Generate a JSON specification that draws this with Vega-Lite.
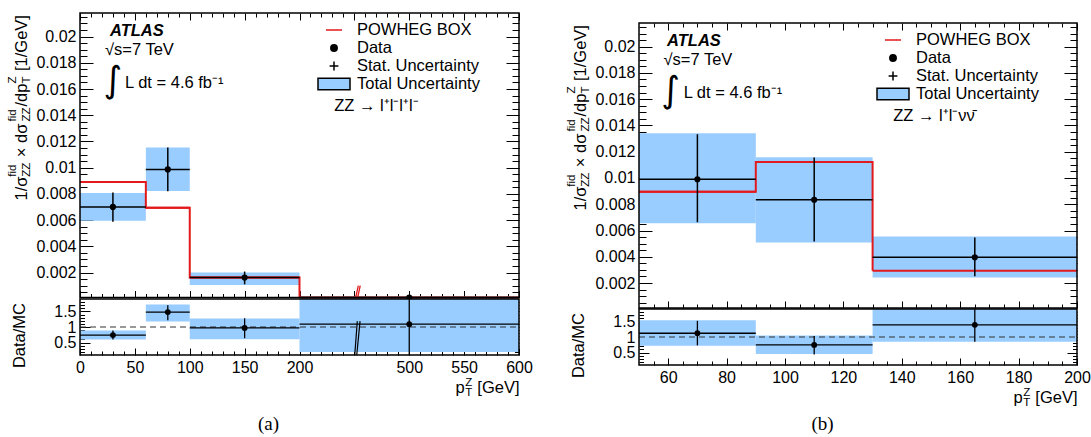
{
  "$schema": "https://vega.github.io/schema/vega-lite/v6.json",
  "width": 1091,
  "height": 437,
  "autosize": {"type": "none"},
  "padding": 0,
  "background": "white",
  "datasets": {
    "left": [
      {"lo": 0, "hi": 60, "c": 30, "d": 0.00701, "slo": 0.00587, "shi": 0.0081, "tlo": 0.00595, "thi": 0.00808, "mc": 0.00891, "r": 0.74, "rslo": 0.6, "rshi": 0.89, "rtlo": 0.6, "rthi": 0.89},
      {"lo": 60, "hi": 100, "c": 80, "d": 0.00987, "slo": 0.0082, "shi": 0.01155, "tlo": 0.00823, "thi": 0.01155, "mc": 0.00694, "r": 1.48, "rslo": 1.22, "rshi": 1.7, "rtlo": 1.18, "rthi": 1.72},
      {"lo": 100, "hi": 200, "c": 150, "d": 0.00162, "slo": 0.00111, "shi": 0.00208, "tlo": 0.00106, "thi": 0.002, "mc": 0.00162, "r": 0.97, "rslo": 0.64, "rshi": 1.28, "rtlo": 0.61, "rthi": 1.27},
      {"lo": 200, "hi": 600, "c": 500, "d": 0.0001, "slo": 0.00002, "shi": 0.0002, "tlo": 0.00004, "thi": 0.00018, "mc": 0.0001, "r": 1.09, "rslo": -0.2, "rshi": 2.6, "rtlo": 0.2, "rthi": 2.6}
    ],
    "right": [
      {"lo": 50, "hi": 90, "c": 70, "d": 0.0099, "slo": 0.00663, "shi": 0.01333, "tlo": 0.00656, "thi": 0.01341, "mc": 0.00895, "r": 1.12, "rslo": 0.73, "rshi": 1.52, "rtlo": 0.72, "rthi": 1.54},
      {"lo": 90, "hi": 130, "c": 110, "d": 0.00834, "slo": 0.00516, "shi": 0.01155, "tlo": 0.00508, "thi": 0.01157, "mc": 0.01122, "r": 0.745, "rslo": 0.44, "rshi": 1.03, "rtlo": 0.45, "rthi": 1.05},
      {"lo": 130, "hi": 200, "c": 165, "d": 0.00396, "slo": 0.00251, "shi": 0.00546, "tlo": 0.00243, "thi": 0.00554, "mc": 0.00294, "r": 1.39, "rslo": 0.85, "rshi": 2.0, "rtlo": 0.85, "rthi": 2.0}
    ],
    "legend": [{"entry": "POWHEG BOX"}, {"entry": "Data"}, {"entry": "Stat. Uncertainty"}, {"entry": "Total Uncertainty"}],
    "breakMain": [{"x1": 353.6, "x2": 360.8, "y1": 0.0001, "y2": 0.001}, {"x1": 359, "x2": 366, "y1": 0.0001, "y2": 0.001}],
    "breakRatio": [{"x1": 351, "x2": 358, "y1": 0.1, "y2": 1.19}, {"x1": 356.5, "x2": 365.5, "y1": 0.1, "y2": 1.19}],
    "one": [{}]
  },
  "config": {
    "font": "Liberation Sans",
    "view": {"stroke": null},
    "axis": {"grid": false, "domain": false, "zindex": 1, "labelFont": "Liberation Sans", "labelFontSize": 16, "labelColor": "black", "tickColor": "black", "tickWidth": 1, "titleFont": "Liberation Sans", "titleFontSize": 16.5, "titleFontWeight": "normal", "titleColor": "black", "labelOverlap": false, "labelBound": false, "labelFlush": false, "titlePadding": 0},
    "legend": {"orient": "none", "direction": "vertical", "titleOrient": "bottom", "titleAnchor": "start", "titleFont": "Liberation Sans", "titleFontSize": 16.5, "titleFontWeight": "normal", "titleColor": "black", "titlePadding": 5, "labelFont": "Liberation Sans", "labelFontSize": 16.5, "labelColor": "black", "labelOffset": 14, "symbolSize": 256, "symbolStrokeWidth": 1.5, "rowPadding": 0, "padding": 0, "labelLimit": 0, "titleLimit": 0}
  },
  "resolve": {
    "scale": {"x": "independent", "y": "independent", "shape": "independent", "fill": "independent", "stroke": "independent"},
    "axis": {"x": "independent", "y": "independent"},
    "legend": {"shape": "independent", "fill": "independent", "stroke": "independent"}
  },
  "layer": [
    {
      "resolve": {"axis": {"x": "independent", "y": "independent"}},
      "layer": [
        {"data": {"name": "left"}, "mark": {"type": "rect", "color": "#99ccff"},
         "encoding": {
           "x": {"field": "lo", "type": "quantitative", "scale": {"domain": [0, 200, 500, 600], "range": [80, 299.5, 409.25, 519], "nice": false, "zero": false},
                 "axis": {"orient": "bottom", "offset": -139.5, "values": [0, 50, 100, 150, 200, 350, 500, 550, 600], "labels": false, "tickSize": -7, "title": null}},
           "x2": {"field": "hi"},
           "y": {"field": "tlo", "type": "quantitative", "scale": {"domain": [0.0001, 0.0218], "range": [297.5, 13], "nice": false, "zero": false, "clamp": true},
                 "axis": {"orient": "left", "offset": -80, "values": [0.002, 0.004, 0.006, 0.008, 0.01, 0.012, 0.014, 0.016, 0.018, 0.02], "tickSize": -13, "labelPadding": 17, "labelExpr": "format(datum.value, '~g')", "title": "1/σ", "titleAngle": 270, "titleAlign": "left", "titleBaseline": "alphabetic", "titleX": -54, "titleY": 200}},
           "y2": {"field": "thi"}}},
        {"data": {"name": "left"}, "mark": {"type": "line", "color": "#e31a1c", "strokeWidth": 2, "interpolate": "step-after"},
         "encoding": {"x": {"field": "lo", "type": "quantitative", "axis": null}, "y": {"field": "mc", "type": "quantitative", "axis": null}}},
        {"data": {"name": "left"}, "mark": {"type": "rule", "color": "#e31a1c", "strokeWidth": 2},
         "encoding": {"x": {"field": "lo", "type": "quantitative", "axis": null}, "x2": {"field": "hi"}, "y": {"field": "mc", "type": "quantitative", "axis": null}}},
        {"data": {"name": "left"}, "mark": {"type": "rule", "color": "black", "strokeWidth": 1.5},
         "encoding": {"x": {"field": "lo", "type": "quantitative", "axis": null}, "x2": {"field": "hi"}, "y": {"field": "d", "type": "quantitative", "axis": null}}},
        {"data": {"name": "left"}, "mark": {"type": "rule", "color": "black", "strokeWidth": 1.5},
         "encoding": {"x": {"field": "c", "type": "quantitative", "axis": null}, "y": {"field": "slo", "type": "quantitative", "axis": null}, "y2": {"field": "shi"}}},
        {"data": {"name": "left"}, "mark": {"type": "point", "filled": true, "color": "black", "opacity": 1, "size": 38, "shape": "circle"},
         "encoding": {"x": {"field": "c", "type": "quantitative", "axis": null}, "y": {"field": "d", "type": "quantitative", "axis": null}}},
        {"data": {"name": "breakMain"}, "mark": {"type": "rule", "color": "#e31a1c", "strokeWidth": 1.3},
         "encoding": {"x": {"field": "x1", "type": "quantitative", "axis": null}, "x2": {"field": "x2"}, "y": {"field": "y1", "type": "quantitative", "axis": null}, "y2": {"field": "y2"}}},
        {"data": {"name": "one"}, "mark": {"type": "text", "text": "ATLAS", "font": "Liberation Sans", "fontSize": 16.5, "fontStyle": "italic", "fontWeight": "bold", "align": "left", "baseline": "alphabetic", "color": "black"},
         "encoding": {"x": {"datum": 27.3, "type": "quantitative", "axis": null}, "y": {"datum": 0.02005, "type": "quantitative", "axis": null}}},
        {"data": {"name": "one"}, "mark": {"type": "text", "text": "√s=7 TeV", "font": "Liberation Sans", "fontSize": 16.5, "align": "left", "baseline": "alphabetic", "color": "black"},
         "encoding": {"x": {"datum": 22.8, "type": "quantitative", "axis": null}, "y": {"datum": 0.0186, "type": "quantitative", "axis": null}}},
        {"data": {"name": "one"}, "mark": {"type": "text", "text": "∫", "font": "DejaVu Sans", "fontSize": 36, "align": "center", "baseline": "alphabetic", "color": "black"},
         "encoding": {"x": {"datum": 30, "type": "quantitative", "axis": null}, "y": {"datum": 0.01578, "type": "quantitative", "axis": null}}},
        {"data": {"name": "one"}, "mark": {"type": "text", "text": "L dt = 4.6 fb⁻¹", "font": "Liberation Sans", "fontSize": 16.5, "align": "left", "baseline": "alphabetic", "color": "black"},
         "encoding": {"x": {"datum": 41, "type": "quantitative", "axis": null}, "y": {"datum": 0.01609, "type": "quantitative", "axis": null}}},
        {"data": {"name": "legend"}, "mark": {"type": "point", "opacity": 0},
         "encoding": {
           "shape": {"field": "entry", "type": "nominal", "scale": {"domain": ["POWHEG BOX", "Data", "Stat. Uncertainty", "Total Uncertainty"], "range": ["M-1,0H1", "M-0.4,0A0.4,0.4,0,1,0,0.4,0A0.4,0.4,0,1,0,-0.4,0Z", "M-0.55,0H0.55M0,-0.55V0.55", "M-2,-0.72H2V0.72H-2Z"]},
                     "legend": {"title": "\u200b\u00a0\u00a0ZZ → l⁺l⁻l⁺l⁻", "legendX": 325, "legendY": 21, "encoding": {"symbols": {"fill": {"condition": [{"test": "datum.value === 'Data'", "value": "black"}, {"test": "datum.value === 'Total Uncertainty'", "value": "#99ccff"}], "value": "transparent"}, "fillOpacity": {"value": 1}}}}},
           "fill": {"field": "entry", "type": "nominal", "scale": {"domain": ["POWHEG BOX", "Data", "Stat. Uncertainty", "Total Uncertainty"], "range": ["transparent", "black", "transparent", "#99ccff"]},
                     "legend": {"title": "\u200b\u00a0\u00a0ZZ → l⁺l⁻l⁺l⁻", "legendX": 325, "legendY": 21, "encoding": {"symbols": {"fill": {"condition": [{"test": "datum.value === 'Data'", "value": "black"}, {"test": "datum.value === 'Total Uncertainty'", "value": "#99ccff"}], "value": "transparent"}, "fillOpacity": {"value": 1}}}}},
           "stroke": {"field": "entry", "type": "nominal", "scale": {"domain": ["POWHEG BOX", "Data", "Stat. Uncertainty", "Total Uncertainty"], "range": ["#e31a1c", "black", "black", "black"]},
                     "legend": {"title": "\u200b\u00a0\u00a0ZZ → l⁺l⁻l⁺l⁻", "legendX": 325, "legendY": 21, "encoding": {"symbols": {"fill": {"condition": [{"test": "datum.value === 'Data'", "value": "black"}, {"test": "datum.value === 'Total Uncertainty'", "value": "#99ccff"}], "value": "transparent"}, "fillOpacity": {"value": 1}}}}}}},
        {"data": {"name": "one"}, "mark": {"type": "point", "opacity": 0},
         "encoding": {
           "x": {"datum": 100, "type": "quantitative", "axis": {"orient": "bottom", "offset": -139.5, "values": [10, 20, 30, 40, 60, 70, 80, 90, 110, 120, 130, 140, 160, 170, 180, 190, 230, 260, 290, 320, 380, 410, 440, 470, 510, 520, 530, 540, 560, 570, 580, 590], "labels": false, "tickSize": -4, "title": null}},
           "y": {"datum": 0.01, "type": "quantitative", "axis": {"orient": "left", "offset": -80, "values": [0.0005, 0.001, 0.0015, 0.0025, 0.003, 0.0035, 0.0045, 0.005, 0.0055, 0.0065, 0.007, 0.0075, 0.0085, 0.009, 0.0095, 0.0105, 0.011, 0.0115, 0.0125, 0.013, 0.0135, 0.0145, 0.015, 0.0155, 0.0165, 0.017, 0.0175, 0.0185, 0.019, 0.0195, 0.0205, 0.021, 0.0215], "labels": false, "tickSize": -7, "title": null}}}},
        {"data": {"name": "one"}, "mark": {"type": "point", "opacity": 0},
         "encoding": {
           "x": {"datum": 100, "type": "quantitative", "axis": {"orient": "top", "offset": -13, "values": [0, 50, 100, 150, 200, 350, 500, 550, 600], "labels": false, "tickSize": -7, "title": null}},
           "y": {"datum": 0.01, "type": "quantitative", "axis": {"orient": "right", "offset": -572, "values": [0.002, 0.004, 0.006, 0.008, 0.01, 0.012, 0.014, 0.016, 0.018, 0.02], "labels": false, "tickSize": -13, "title": null}}}},
        {"data": {"name": "one"}, "mark": {"type": "point", "opacity": 0},
         "encoding": {
           "x": {"datum": 100, "type": "quantitative", "axis": {"orient": "top", "offset": -13, "values": [10, 20, 30, 40, 60, 70, 80, 90, 110, 120, 130, 140, 160, 170, 180, 190, 230, 260, 290, 320, 380, 410, 440, 470, 510, 520, 530, 540, 560, 570, 580, 590], "labels": false, "tickSize": -4, "title": null}},
           "y": {"datum": 0.01, "type": "quantitative", "axis": {"orient": "right", "offset": -572, "values": [0.0005, 0.001, 0.0015, 0.0025, 0.003, 0.0035, 0.0045, 0.005, 0.0055, 0.0065, 0.007, 0.0075, 0.0085, 0.009, 0.0095, 0.0105, 0.011, 0.0115, 0.0125, 0.013, 0.0135, 0.0145, 0.015, 0.0155, 0.0165, 0.017, 0.0175, 0.0185, 0.019, 0.0195, 0.0205, 0.021, 0.0215], "labels": false, "tickSize": -7, "title": null}}}},
        {"data": {"name": "one"}, "mark": {"type": "point", "opacity": 0}, "encoding": {"y": {"datum": 0.01, "type": "quantitative", "axis": {"orient": "left", "offset": -80, "labels": false, "ticks": false, "title": "ZZ", "titleFontSize": 11.5, "titleAngle": 270, "titleAlign": "left", "titleBaseline": "alphabetic", "titleX": -50.5, "titleY": 176.3}}}},
        {"data": {"name": "one"}, "mark": {"type": "point", "opacity": 0}, "encoding": {"y": {"datum": 0.01, "type": "quantitative", "axis": {"orient": "left", "offset": -80, "labels": false, "ticks": false, "title": "fid", "titleFontSize": 11.5, "titleAngle": 270, "titleAlign": "left", "titleBaseline": "alphabetic", "titleX": -64.5, "titleY": 176.3}}}},
        {"data": {"name": "one"}, "mark": {"type": "point", "opacity": 0}, "encoding": {"y": {"datum": 0.01, "type": "quantitative", "axis": {"orient": "left", "offset": -80, "labels": false, "ticks": false, "title": "\u200b\u00a0×\u00a0dσ", "titleAngle": 270, "titleAlign": "left", "titleBaseline": "alphabetic", "titleX": -54, "titleY": 161.3}}}},
        {"data": {"name": "one"}, "mark": {"type": "point", "opacity": 0}, "encoding": {"y": {"datum": 0.01, "type": "quantitative", "axis": {"orient": "left", "offset": -80, "labels": false, "ticks": false, "title": "ZZ", "titleFontSize": 11.5, "titleAngle": 270, "titleAlign": "left", "titleBaseline": "alphabetic", "titleX": -50.5, "titleY": 121}}}},
        {"data": {"name": "one"}, "mark": {"type": "point", "opacity": 0}, "encoding": {"y": {"datum": 0.01, "type": "quantitative", "axis": {"orient": "left", "offset": -80, "labels": false, "ticks": false, "title": "fid", "titleFontSize": 11.5, "titleAngle": 270, "titleAlign": "left", "titleBaseline": "alphabetic", "titleX": -64.5, "titleY": 121}}}},
        {"data": {"name": "one"}, "mark": {"type": "point", "opacity": 0}, "encoding": {"y": {"datum": 0.01, "type": "quantitative", "axis": {"orient": "left", "offset": -80, "labels": false, "ticks": false, "title": "/dp", "titleAngle": 270, "titleAlign": "left", "titleBaseline": "alphabetic", "titleX": -54, "titleY": 106}}}},
        {"data": {"name": "one"}, "mark": {"type": "point", "opacity": 0}, "encoding": {"y": {"datum": 0.01, "type": "quantitative", "axis": {"orient": "left", "offset": -80, "labels": false, "ticks": false, "title": "T", "titleFontSize": 11.5, "titleAngle": 270, "titleAlign": "left", "titleBaseline": "alphabetic", "titleX": -50.5, "titleY": 83.1}}}},
        {"data": {"name": "one"}, "mark": {"type": "point", "opacity": 0}, "encoding": {"y": {"datum": 0.01, "type": "quantitative", "axis": {"orient": "left", "offset": -80, "labels": false, "ticks": false, "title": "Z", "titleFontSize": 11.5, "titleAngle": 270, "titleAlign": "left", "titleBaseline": "alphabetic", "titleX": -64.5, "titleY": 83.1}}}},
        {"data": {"name": "one"}, "mark": {"type": "point", "opacity": 0}, "encoding": {"y": {"datum": 0.01, "type": "quantitative", "axis": {"orient": "left", "offset": -80, "labels": false, "ticks": false, "title": "\u200b\u00a0[1/GeV]", "titleAngle": 270, "titleAlign": "left", "titleBaseline": "alphabetic", "titleX": -54, "titleY": 75.1}}}},
        {"data": {"name": "one"}, "mark": {"type": "rect", "fill": "transparent", "stroke": "black", "strokeWidth": 1.5},
         "encoding": {"x": {"datum": 0, "type": "quantitative", "axis": null}, "x2": {"datum": 600}, "y": {"datum": 0.0001, "type": "quantitative", "axis": null}, "y2": {"datum": 0.0218}}}
      ]
    },
    {
      "resolve": {"axis": {"x": "independent", "y": "independent"}},
      "layer": [
        {"data": {"name": "left"}, "mark": {"type": "rect", "color": "#99ccff"},
         "encoding": {
           "x": {"field": "lo", "type": "quantitative", "scale": {"domain": [0, 200, 500, 600], "range": [80, 299.5, 409.25, 519], "nice": false, "zero": false},
                 "axis": {"orient": "bottom", "offset": -82, "values": [0, 50, 100, 150, 200, 350, 500, 550, 600], "tickSize": -7, "labelPadding": 11, "labelExpr": "datum.value == 350 ? '' : datum.label", "title": null}},
           "x2": {"field": "hi"},
           "y": {"field": "rtlo", "type": "quantitative", "scale": {"domain": [0.1, 1.9], "range": [355, 299], "nice": false, "zero": false, "clamp": true},
                 "axis": {"orient": "left", "offset": -80, "values": [0.5, 1, 1.5], "tickSize": -10, "labelPadding": 14, "labelExpr": "format(datum.value, '~g')", "title": "Data/MC", "titleAngle": 270, "titleAlign": "right", "titleBaseline": "alphabetic", "titleX": -56, "titleY": 302.5}},
           "y2": {"field": "rthi"}}},
        {"data": {"name": "one"}, "mark": {"type": "rule", "color": "#333333", "strokeDash": [6, 4], "strokeWidth": 1},
         "encoding": {"x": {"datum": 0, "type": "quantitative", "axis": null}, "x2": {"datum": 600}, "y": {"datum": 1, "type": "quantitative", "axis": null}}},
        {"data": {"name": "left"}, "mark": {"type": "rule", "color": "black", "strokeWidth": 1.3},
         "encoding": {"x": {"field": "lo", "type": "quantitative", "axis": null}, "x2": {"field": "hi"}, "y": {"field": "r", "type": "quantitative", "axis": null}}},
        {"data": {"name": "left"}, "mark": {"type": "rule", "color": "black", "strokeWidth": 1.3},
         "encoding": {"x": {"field": "c", "type": "quantitative", "axis": null}, "y": {"field": "rslo", "type": "quantitative", "axis": null}, "y2": {"field": "rshi"}}},
        {"data": {"name": "left"}, "mark": {"type": "point", "filled": true, "color": "black", "opacity": 1, "size": 34, "shape": "circle"},
         "encoding": {"x": {"field": "c", "type": "quantitative", "axis": null}, "y": {"field": "r", "type": "quantitative", "axis": null}}},
        {"data": {"name": "breakRatio"}, "mark": {"type": "rule", "color": "black", "strokeWidth": 1.2},
         "encoding": {"x": {"field": "x1", "type": "quantitative", "axis": null}, "x2": {"field": "x2"}, "y": {"field": "y1", "type": "quantitative", "axis": null}, "y2": {"field": "y2"}}},
        {"data": {"name": "one"}, "mark": {"type": "point", "opacity": 0},
         "encoding": {
           "x": {"datum": 100, "type": "quantitative", "axis": {"orient": "bottom", "offset": -82, "values": [10, 20, 30, 40, 60, 70, 80, 90, 110, 120, 130, 140, 160, 170, 180, 190, 230, 260, 290, 320, 380, 410, 440, 470, 510, 520, 530, 540, 560, 570, 580, 590], "labels": false, "tickSize": -4, "title": null}},
           "y": {"datum": 1, "type": "quantitative", "axis": {"orient": "left", "offset": -80, "values": [0.2, 0.3, 0.4, 0.6, 0.7, 0.8, 0.9, 1.1, 1.2, 1.3, 1.4, 1.6, 1.7, 1.8], "labels": false, "tickSize": -4.5, "title": null}}}},
        {"data": {"name": "one"}, "mark": {"type": "point", "opacity": 0},
         "encoding": {"y": {"datum": 1, "type": "quantitative", "axis": {"orient": "right", "offset": -572, "values": [0.5, 1, 1.5], "labels": false, "tickSize": -10, "title": null}}}},
        {"data": {"name": "one"}, "mark": {"type": "point", "opacity": 0},
         "encoding": {"y": {"datum": 1, "type": "quantitative", "axis": {"orient": "right", "offset": -572, "values": [0.2, 0.3, 0.4, 0.6, 0.7, 0.8, 0.9, 1.1, 1.2, 1.3, 1.4, 1.6, 1.7, 1.8], "labels": false, "tickSize": -4.5, "title": null}}}},
        {"data": {"name": "one"}, "mark": {"type": "point", "opacity": 0}, "encoding": {"x": {"datum": 100, "type": "quantitative", "axis": {"orient": "bottom", "offset": -82, "labels": false, "ticks": false, "title": "p", "titleAlign": "right", "titleBaseline": "alphabetic", "titleX": 464.2, "titleY": 37}}}},
        {"data": {"name": "one"}, "mark": {"type": "point", "opacity": 0}, "encoding": {"x": {"datum": 100, "type": "quantitative", "axis": {"orient": "bottom", "offset": -82, "labels": false, "ticks": false, "title": "T", "titleFontSize": 11.5, "titleAlign": "left", "titleBaseline": "alphabetic", "titleX": 464.7, "titleY": 40.5}}}},
        {"data": {"name": "one"}, "mark": {"type": "point", "opacity": 0}, "encoding": {"x": {"datum": 100, "type": "quantitative", "axis": {"orient": "bottom", "offset": -82, "labels": false, "ticks": false, "title": "Z", "titleFontSize": 11.5, "titleAlign": "left", "titleBaseline": "alphabetic", "titleX": 464.7, "titleY": 30}}}},
        {"data": {"name": "one"}, "mark": {"type": "point", "opacity": 0}, "encoding": {"x": {"datum": 100, "type": "quantitative", "axis": {"orient": "bottom", "offset": -82, "labels": false, "ticks": false, "title": "[GeV]", "titleAlign": "right", "titleBaseline": "alphabetic", "titleX": 519, "titleY": 37}}}},
        {"data": {"name": "one"}, "mark": {"type": "point", "opacity": 0}, "encoding": {"x": {"datum": 100, "type": "quantitative", "axis": {"orient": "bottom", "offset": -82, "labels": false, "ticks": false, "title": "(a)", "titleFont": "Liberation Serif", "titleFontSize": 19, "titleAlign": "center", "titleBaseline": "alphabetic", "titleX": 268, "titleY": 74}}}},
        {"data": {"name": "one"}, "mark": {"type": "rect", "fill": "transparent", "stroke": "black", "strokeWidth": 1.5},
         "encoding": {"x": {"datum": 0, "type": "quantitative", "axis": null}, "x2": {"datum": 600}, "y": {"datum": 0.1, "type": "quantitative", "axis": null}, "y2": {"datum": 1.9}}}
      ]
    },
    {
      "resolve": {"axis": {"x": "independent", "y": "independent"}},
      "layer": [
        {"data": {"name": "right"}, "mark": {"type": "rect", "color": "#99ccff"},
         "encoding": {
           "x": {"field": "lo", "type": "quantitative", "scale": {"domain": [50, 200], "range": [639, 1077], "nice": false, "zero": false},
                 "axis": {"orient": "bottom", "offset": -129, "values": [60, 80, 100, 120, 140, 160, 180, 200], "labels": false, "tickSize": -7, "title": null}},
           "x2": {"field": "hi"},
           "y": {"field": "tlo", "type": "quantitative", "scale": {"domain": [0.0001, 0.0218], "range": [308, 23], "nice": false, "zero": false, "clamp": true},
                 "axis": {"orient": "left", "offset": -639, "values": [0.002, 0.004, 0.006, 0.008, 0.01, 0.012, 0.014, 0.016, 0.018, 0.02], "tickSize": -13, "labelPadding": 17, "labelExpr": "format(datum.value, '~g')", "title": "1/σ", "titleAngle": 270, "titleAlign": "left", "titleBaseline": "alphabetic", "titleX": -54, "titleY": 210}},
           "y2": {"field": "thi"}}},
        {"data": {"name": "right"}, "mark": {"type": "line", "color": "#e31a1c", "strokeWidth": 2, "interpolate": "step-after"},
         "encoding": {"x": {"field": "lo", "type": "quantitative", "axis": null}, "y": {"field": "mc", "type": "quantitative", "axis": null}}},
        {"data": {"name": "right"}, "mark": {"type": "rule", "color": "#e31a1c", "strokeWidth": 2},
         "encoding": {"x": {"field": "lo", "type": "quantitative", "axis": null}, "x2": {"field": "hi"}, "y": {"field": "mc", "type": "quantitative", "axis": null}}},
        {"data": {"name": "right"}, "mark": {"type": "rule", "color": "black", "strokeWidth": 1.5},
         "encoding": {"x": {"field": "lo", "type": "quantitative", "axis": null}, "x2": {"field": "hi"}, "y": {"field": "d", "type": "quantitative", "axis": null}}},
        {"data": {"name": "right"}, "mark": {"type": "rule", "color": "black", "strokeWidth": 1.5},
         "encoding": {"x": {"field": "c", "type": "quantitative", "axis": null}, "y": {"field": "slo", "type": "quantitative", "axis": null}, "y2": {"field": "shi"}}},
        {"data": {"name": "right"}, "mark": {"type": "point", "filled": true, "color": "black", "opacity": 1, "size": 38, "shape": "circle"},
         "encoding": {"x": {"field": "c", "type": "quantitative", "axis": null}, "y": {"field": "d", "type": "quantitative", "axis": null}}},
        {"data": {"name": "one"}, "mark": {"type": "text", "text": "ATLAS", "font": "Liberation Sans", "fontSize": 16.5, "fontStyle": "italic", "fontWeight": "bold", "align": "left", "baseline": "alphabetic", "color": "black"},
         "encoding": {"x": {"datum": 59.6, "type": "quantitative", "axis": null}, "y": {"datum": 0.02005, "type": "quantitative", "axis": null}}},
        {"data": {"name": "one"}, "mark": {"type": "text", "text": "√s=7 TeV", "font": "Liberation Sans", "fontSize": 16.5, "align": "left", "baseline": "alphabetic", "color": "black"},
         "encoding": {"x": {"datum": 58.4, "type": "quantitative", "axis": null}, "y": {"datum": 0.0186, "type": "quantitative", "axis": null}}},
        {"data": {"name": "one"}, "mark": {"type": "text", "text": "∫", "font": "DejaVu Sans", "fontSize": 36, "align": "center", "baseline": "alphabetic", "color": "black"},
         "encoding": {"x": {"datum": 60.8, "type": "quantitative", "axis": null}, "y": {"datum": 0.01578, "type": "quantitative", "axis": null}}},
        {"data": {"name": "one"}, "mark": {"type": "text", "text": "L dt = 4.6 fb⁻¹", "font": "Liberation Sans", "fontSize": 16.5, "align": "left", "baseline": "alphabetic", "color": "black"},
         "encoding": {"x": {"datum": 65.3, "type": "quantitative", "axis": null}, "y": {"datum": 0.01609, "type": "quantitative", "axis": null}}},
        {"data": {"name": "legend"}, "mark": {"type": "point", "opacity": 0},
         "encoding": {
           "shape": {"field": "entry", "type": "nominal", "scale": {"domain": ["POWHEG BOX", "Data", "Stat. Uncertainty", "Total Uncertainty"], "range": ["M-1,0H1", "M-0.4,0A0.4,0.4,0,1,0,0.4,0A0.4,0.4,0,1,0,-0.4,0Z", "M-0.55,0H0.55M0,-0.55V0.55", "M-2,-0.72H2V0.72H-2Z"]},
                     "legend": {"title": "\u200b\u00a0\u00a0ZZ → l⁺l⁻νν̄", "legendX": 884, "legendY": 31, "encoding": {"symbols": {"fill": {"condition": [{"test": "datum.value === 'Data'", "value": "black"}, {"test": "datum.value === 'Total Uncertainty'", "value": "#99ccff"}], "value": "transparent"}, "fillOpacity": {"value": 1}}}}},
           "fill": {"field": "entry", "type": "nominal", "scale": {"domain": ["POWHEG BOX", "Data", "Stat. Uncertainty", "Total Uncertainty"], "range": ["transparent", "black", "transparent", "#99ccff"]},
                     "legend": {"title": "\u200b\u00a0\u00a0ZZ → l⁺l⁻νν̄", "legendX": 884, "legendY": 31, "encoding": {"symbols": {"fill": {"condition": [{"test": "datum.value === 'Data'", "value": "black"}, {"test": "datum.value === 'Total Uncertainty'", "value": "#99ccff"}], "value": "transparent"}, "fillOpacity": {"value": 1}}}}},
           "stroke": {"field": "entry", "type": "nominal", "scale": {"domain": ["POWHEG BOX", "Data", "Stat. Uncertainty", "Total Uncertainty"], "range": ["#e31a1c", "black", "black", "black"]},
                     "legend": {"title": "\u200b\u00a0\u00a0ZZ → l⁺l⁻νν̄", "legendX": 884, "legendY": 31, "encoding": {"symbols": {"fill": {"condition": [{"test": "datum.value === 'Data'", "value": "black"}, {"test": "datum.value === 'Total Uncertainty'", "value": "#99ccff"}], "value": "transparent"}, "fillOpacity": {"value": 1}}}}}}},
        {"data": {"name": "one"}, "mark": {"type": "point", "opacity": 0},
         "encoding": {
           "x": {"datum": 100, "type": "quantitative", "axis": {"orient": "bottom", "offset": -129, "values": [55, 65, 70, 75, 85, 90, 95, 105, 110, 115, 125, 130, 135, 145, 150, 155, 165, 170, 175, 185, 190, 195], "labels": false, "tickSize": -4, "title": null}},
           "y": {"datum": 0.01, "type": "quantitative", "axis": {"orient": "left", "offset": -639, "values": [0.0005, 0.001, 0.0015, 0.0025, 0.003, 0.0035, 0.0045, 0.005, 0.0055, 0.0065, 0.007, 0.0075, 0.0085, 0.009, 0.0095, 0.0105, 0.011, 0.0115, 0.0125, 0.013, 0.0135, 0.0145, 0.015, 0.0155, 0.0165, 0.017, 0.0175, 0.0185, 0.019, 0.0195, 0.0205, 0.021, 0.0215], "labels": false, "tickSize": -7, "title": null}}}},
        {"data": {"name": "one"}, "mark": {"type": "point", "opacity": 0},
         "encoding": {
           "x": {"datum": 100, "type": "quantitative", "axis": {"orient": "top", "offset": -23, "values": [60, 80, 100, 120, 140, 160, 180, 200], "labels": false, "tickSize": -7, "title": null}},
           "y": {"datum": 0.01, "type": "quantitative", "axis": {"orient": "right", "offset": -14, "values": [0.002, 0.004, 0.006, 0.008, 0.01, 0.012, 0.014, 0.016, 0.018, 0.02], "labels": false, "tickSize": -13, "title": null}}}},
        {"data": {"name": "one"}, "mark": {"type": "point", "opacity": 0},
         "encoding": {
           "x": {"datum": 100, "type": "quantitative", "axis": {"orient": "top", "offset": -23, "values": [55, 65, 70, 75, 85, 90, 95, 105, 110, 115, 125, 130, 135, 145, 150, 155, 165, 170, 175, 185, 190, 195], "labels": false, "tickSize": -4, "title": null}},
           "y": {"datum": 0.01, "type": "quantitative", "axis": {"orient": "right", "offset": -14, "values": [0.0005, 0.001, 0.0015, 0.0025, 0.003, 0.0035, 0.0045, 0.005, 0.0055, 0.0065, 0.007, 0.0075, 0.0085, 0.009, 0.0095, 0.0105, 0.011, 0.0115, 0.0125, 0.013, 0.0135, 0.0145, 0.015, 0.0155, 0.0165, 0.017, 0.0175, 0.0185, 0.019, 0.0195, 0.0205, 0.021, 0.0215], "labels": false, "tickSize": -7, "title": null}}}},
        {"data": {"name": "one"}, "mark": {"type": "point", "opacity": 0}, "encoding": {"y": {"datum": 0.01, "type": "quantitative", "axis": {"orient": "left", "offset": -639, "labels": false, "ticks": false, "title": "ZZ", "titleFontSize": 11.5, "titleAngle": 270, "titleAlign": "left", "titleBaseline": "alphabetic", "titleX": -50.5, "titleY": 186.3}}}},
        {"data": {"name": "one"}, "mark": {"type": "point", "opacity": 0}, "encoding": {"y": {"datum": 0.01, "type": "quantitative", "axis": {"orient": "left", "offset": -639, "labels": false, "ticks": false, "title": "fid", "titleFontSize": 11.5, "titleAngle": 270, "titleAlign": "left", "titleBaseline": "alphabetic", "titleX": -64.5, "titleY": 186.3}}}},
        {"data": {"name": "one"}, "mark": {"type": "point", "opacity": 0}, "encoding": {"y": {"datum": 0.01, "type": "quantitative", "axis": {"orient": "left", "offset": -639, "labels": false, "ticks": false, "title": "\u200b\u00a0×\u00a0dσ", "titleAngle": 270, "titleAlign": "left", "titleBaseline": "alphabetic", "titleX": -54, "titleY": 171.3}}}},
        {"data": {"name": "one"}, "mark": {"type": "point", "opacity": 0}, "encoding": {"y": {"datum": 0.01, "type": "quantitative", "axis": {"orient": "left", "offset": -639, "labels": false, "ticks": false, "title": "ZZ", "titleFontSize": 11.5, "titleAngle": 270, "titleAlign": "left", "titleBaseline": "alphabetic", "titleX": -50.5, "titleY": 131}}}},
        {"data": {"name": "one"}, "mark": {"type": "point", "opacity": 0}, "encoding": {"y": {"datum": 0.01, "type": "quantitative", "axis": {"orient": "left", "offset": -639, "labels": false, "ticks": false, "title": "fid", "titleFontSize": 11.5, "titleAngle": 270, "titleAlign": "left", "titleBaseline": "alphabetic", "titleX": -64.5, "titleY": 131}}}},
        {"data": {"name": "one"}, "mark": {"type": "point", "opacity": 0}, "encoding": {"y": {"datum": 0.01, "type": "quantitative", "axis": {"orient": "left", "offset": -639, "labels": false, "ticks": false, "title": "/dp", "titleAngle": 270, "titleAlign": "left", "titleBaseline": "alphabetic", "titleX": -54, "titleY": 116}}}},
        {"data": {"name": "one"}, "mark": {"type": "point", "opacity": 0}, "encoding": {"y": {"datum": 0.01, "type": "quantitative", "axis": {"orient": "left", "offset": -639, "labels": false, "ticks": false, "title": "T", "titleFontSize": 11.5, "titleAngle": 270, "titleAlign": "left", "titleBaseline": "alphabetic", "titleX": -50.5, "titleY": 93.1}}}},
        {"data": {"name": "one"}, "mark": {"type": "point", "opacity": 0}, "encoding": {"y": {"datum": 0.01, "type": "quantitative", "axis": {"orient": "left", "offset": -639, "labels": false, "ticks": false, "title": "Z", "titleFontSize": 11.5, "titleAngle": 270, "titleAlign": "left", "titleBaseline": "alphabetic", "titleX": -64.5, "titleY": 93.1}}}},
        {"data": {"name": "one"}, "mark": {"type": "point", "opacity": 0}, "encoding": {"y": {"datum": 0.01, "type": "quantitative", "axis": {"orient": "left", "offset": -639, "labels": false, "ticks": false, "title": "\u200b\u00a0[1/GeV]", "titleAngle": 270, "titleAlign": "left", "titleBaseline": "alphabetic", "titleX": -54, "titleY": 85.1}}}},
        {"data": {"name": "one"}, "mark": {"type": "rect", "fill": "transparent", "stroke": "black", "strokeWidth": 1.5},
         "encoding": {"x": {"datum": 50, "type": "quantitative", "axis": null}, "x2": {"datum": 200}, "y": {"datum": 0.0001, "type": "quantitative", "axis": null}, "y2": {"datum": 0.0218}}}
      ]
    },
    {
      "resolve": {"axis": {"x": "independent", "y": "independent"}},
      "layer": [
        {"data": {"name": "right"}, "mark": {"type": "rect", "color": "#99ccff"},
         "encoding": {
           "x": {"field": "lo", "type": "quantitative", "scale": {"domain": [50, 200], "range": [639, 1077], "nice": false, "zero": false},
                 "axis": {"orient": "bottom", "offset": -72, "values": [60, 80, 100, 120, 140, 160, 180, 200], "tickSize": -7, "labelPadding": 11, "title": null}},
           "x2": {"field": "hi"},
           "y": {"field": "rtlo", "type": "quantitative", "scale": {"domain": [0.1, 1.9], "range": [365, 309], "nice": false, "zero": false, "clamp": true},
                 "axis": {"orient": "left", "offset": -639, "values": [0.5, 1, 1.5], "tickSize": -10, "labelPadding": 14, "labelExpr": "format(datum.value, '~g')", "title": "Data/MC", "titleAngle": 270, "titleAlign": "right", "titleBaseline": "alphabetic", "titleX": -56, "titleY": 312.5}},
           "y2": {"field": "rthi"}}},
        {"data": {"name": "one"}, "mark": {"type": "rule", "color": "#333333", "strokeDash": [6, 4], "strokeWidth": 1},
         "encoding": {"x": {"datum": 50, "type": "quantitative", "axis": null}, "x2": {"datum": 200}, "y": {"datum": 1, "type": "quantitative", "axis": null}}},
        {"data": {"name": "right"}, "mark": {"type": "rule", "color": "black", "strokeWidth": 1.3},
         "encoding": {"x": {"field": "lo", "type": "quantitative", "axis": null}, "x2": {"field": "hi"}, "y": {"field": "r", "type": "quantitative", "axis": null}}},
        {"data": {"name": "right"}, "mark": {"type": "rule", "color": "black", "strokeWidth": 1.3},
         "encoding": {"x": {"field": "c", "type": "quantitative", "axis": null}, "y": {"field": "rslo", "type": "quantitative", "axis": null}, "y2": {"field": "rshi"}}},
        {"data": {"name": "right"}, "mark": {"type": "point", "filled": true, "color": "black", "opacity": 1, "size": 34, "shape": "circle"},
         "encoding": {"x": {"field": "c", "type": "quantitative", "axis": null}, "y": {"field": "r", "type": "quantitative", "axis": null}}},
        {"data": {"name": "one"}, "mark": {"type": "point", "opacity": 0},
         "encoding": {
           "x": {"datum": 100, "type": "quantitative", "axis": {"orient": "bottom", "offset": -72, "values": [55, 65, 70, 75, 85, 90, 95, 105, 110, 115, 125, 130, 135, 145, 150, 155, 165, 170, 175, 185, 190, 195], "labels": false, "tickSize": -4, "title": null}},
           "y": {"datum": 1, "type": "quantitative", "axis": {"orient": "left", "offset": -639, "values": [0.2, 0.3, 0.4, 0.6, 0.7, 0.8, 0.9, 1.1, 1.2, 1.3, 1.4, 1.6, 1.7, 1.8], "labels": false, "tickSize": -4.5, "title": null}}}},
        {"data": {"name": "one"}, "mark": {"type": "point", "opacity": 0},
         "encoding": {"y": {"datum": 1, "type": "quantitative", "axis": {"orient": "right", "offset": -14, "values": [0.5, 1, 1.5], "labels": false, "tickSize": -10, "title": null}}}},
        {"data": {"name": "one"}, "mark": {"type": "point", "opacity": 0},
         "encoding": {"y": {"datum": 1, "type": "quantitative", "axis": {"orient": "right", "offset": -14, "values": [0.2, 0.3, 0.4, 0.6, 0.7, 0.8, 0.9, 1.1, 1.2, 1.3, 1.4, 1.6, 1.7, 1.8], "labels": false, "tickSize": -4.5, "title": null}}}},
        {"data": {"name": "one"}, "mark": {"type": "point", "opacity": 0}, "encoding": {"x": {"datum": 100, "type": "quantitative", "axis": {"orient": "bottom", "offset": -72, "labels": false, "ticks": false, "title": "p", "titleAlign": "right", "titleBaseline": "alphabetic", "titleX": 1022.2, "titleY": 37}}}},
        {"data": {"name": "one"}, "mark": {"type": "point", "opacity": 0}, "encoding": {"x": {"datum": 100, "type": "quantitative", "axis": {"orient": "bottom", "offset": -72, "labels": false, "ticks": false, "title": "T", "titleFontSize": 11.5, "titleAlign": "left", "titleBaseline": "alphabetic", "titleX": 1022.7, "titleY": 40.5}}}},
        {"data": {"name": "one"}, "mark": {"type": "point", "opacity": 0}, "encoding": {"x": {"datum": 100, "type": "quantitative", "axis": {"orient": "bottom", "offset": -72, "labels": false, "ticks": false, "title": "Z", "titleFontSize": 11.5, "titleAlign": "left", "titleBaseline": "alphabetic", "titleX": 1022.7, "titleY": 30}}}},
        {"data": {"name": "one"}, "mark": {"type": "point", "opacity": 0}, "encoding": {"x": {"datum": 100, "type": "quantitative", "axis": {"orient": "bottom", "offset": -72, "labels": false, "ticks": false, "title": "[GeV]", "titleAlign": "right", "titleBaseline": "alphabetic", "titleX": 1077, "titleY": 37}}}},
        {"data": {"name": "one"}, "mark": {"type": "point", "opacity": 0}, "encoding": {"x": {"datum": 100, "type": "quantitative", "axis": {"orient": "bottom", "offset": -72, "labels": false, "ticks": false, "title": "(b)", "titleFont": "Liberation Serif", "titleFontSize": 19, "titleAlign": "center", "titleBaseline": "alphabetic", "titleX": 822, "titleY": 64}}}},
        {"data": {"name": "one"}, "mark": {"type": "rect", "fill": "transparent", "stroke": "black", "strokeWidth": 1.5},
         "encoding": {"x": {"datum": 50, "type": "quantitative", "axis": null}, "x2": {"datum": 200}, "y": {"datum": 0.1, "type": "quantitative", "axis": null}, "y2": {"datum": 1.9}}}
      ]
    }
  ]
}
